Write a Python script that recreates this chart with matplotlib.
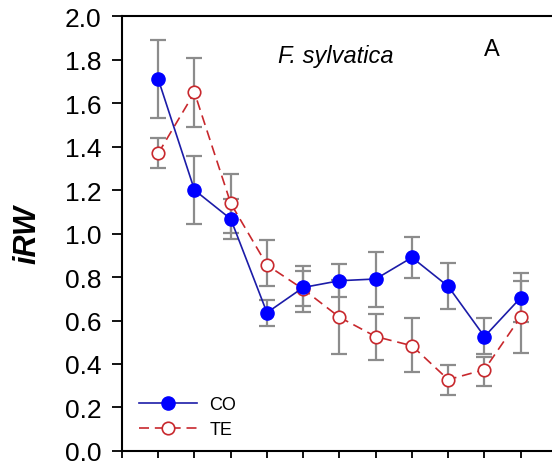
import matplotlib
matplotlib.use('Agg')
import matplotlib.pyplot as plt

plt.rcParams['font.family'] = ['Liberation Sans', 'DejaVu Sans']

# values
years = [1, 2, 3, 4, 5, 6, 7, 8, 9, 10, 11]
co_mean = [1.71, 1.20, 1.067, 0.636, 0.752, 0.783, 0.791, 0.890, 0.757, 0.526, 0.705]
co_hi = [1.89, 1.358, 1.159, 0.693, 0.849, 0.86, 0.913, 0.982, 0.864, 0.611, 0.818]
co_lo = [1.53, 1.045, 0.975, 0.576, 0.64, 0.707, 0.664, 0.794, 0.653, 0.446, 0.592]
te_mean = [1.369, 1.649, 1.139, 0.855, 0.744, 0.615, 0.526, 0.484, 0.328, 0.374, 0.617]
te_hi = [1.44, 1.807, 1.274, 0.971, 0.829, 0.785, 0.63, 0.61, 0.395, 0.431, 0.783]
te_lo = [1.30, 1.488, 1.001, 0.757, 0.668, 0.446, 0.42, 0.362, 0.257, 0.30, 0.45]


def main():
    fig = plt.figure(figsize=(5.52, 4.64), dpi=100)
    ax = fig.add_axes([0.221, 0.026, 0.788, 0.937])

    co_err = [[m - l for m, l in zip(co_mean, co_lo)], [h - m for m, h in zip(co_mean, co_hi)]]
    te_err = [[m - l for m, l in zip(te_mean, te_lo)], [h - m for m, h in zip(te_mean, te_hi)]]

    ax.errorbar(years, co_mean, yerr=co_err, fmt='none', ecolor='#8c8c8c',
                elinewidth=1.6, capsize=6, capthick=1.6, zorder=2)
    ax.errorbar(years, te_mean, yerr=te_err, fmt='none', ecolor='#8c8c8c',
                elinewidth=1.6, capsize=6, capthick=1.6, zorder=2)

    ax.plot(years, co_mean, '-', color='#1c1ca8', lw=1.2, marker='o', ms=9.5,
            mfc='#0000ff', mec='#0000ff', label='CO', zorder=4)
    ax.plot(years, te_mean, '--', color='#c8282d', lw=1.2, dashes=(6, 3.5),
            marker='o', ms=9, mfc='white', mec='#c8282d', mew=1.2, label='TE', zorder=3)

    ax.set_xlim(0, 12)
    ax.set_ylim(0, 2.0)
    ax.set_xticks(range(0, 13))
    ax.set_xticklabels([])
    ax.set_yticks([0.0, 0.2, 0.4, 0.6, 0.8, 1.0, 1.2, 1.4, 1.6, 1.8, 2.0])
    ax.set_yticklabels(['0.0', '0.2', '0.4', '0.6', '0.8', '1.0', '1.2', '1.4', '1.6', '1.8', '2.0'])
    ax.tick_params(axis='y', direction='out', length=7, width=1.3, labelsize=19, pad=8)
    ax.tick_params(axis='x', direction='out', length=5, width=1.3)
    for s in ax.spines.values():
        s.set_linewidth(1.5)

    ax.set_ylabel('iRW', fontsize=22, fontweight='bold', fontstyle='italic', labelpad=16)

    ax.text(5.9, 1.82, 'F. sylvatica', fontsize=17, fontstyle='italic',
            ha='center', va='center')
    ax.text(10.2, 1.85, 'A', fontsize=17, ha='center', va='center')

    leg = ax.legend(loc='lower left', bbox_to_anchor=(0.01, 0.0), frameon=False,
                    fontsize=13, handlelength=3.2, handletextpad=0.7,
                    labelspacing=0.45, borderaxespad=0.3)

    fig.savefig('out.png', dpi=100)


if __name__ == "__main__":
    main()
